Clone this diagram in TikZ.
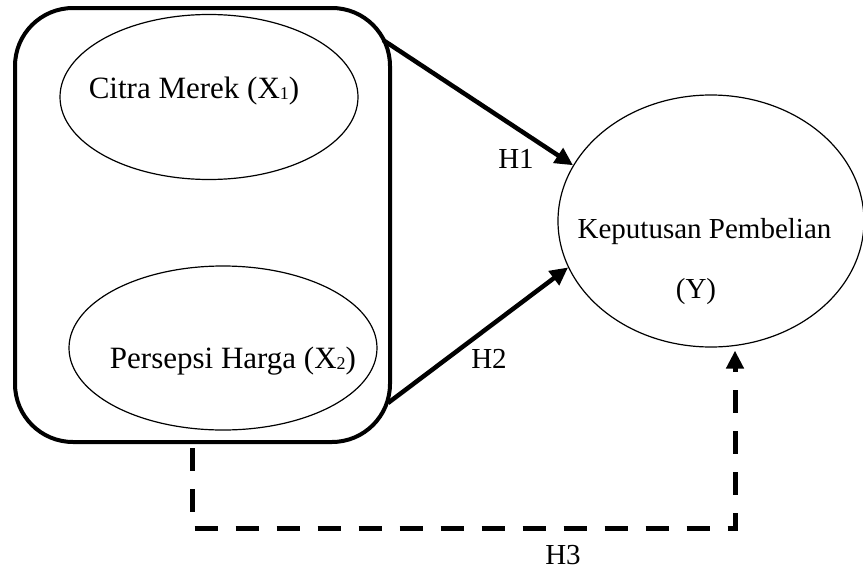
\documentclass[tikz,border=0pt]{standalone}
\usepackage{fontspec}
\setmainfont{Liberation Serif}
\usetikzlibrary{positioning, arrows.meta, shapes.geometric, calc}
\tikzset{
        var-ellipse/.style={
            ellipse, draw, line width=1.2pt, inner sep=0pt
        },
        group-box/.style={
            rectangle, draw, rounded corners=58pt, line width=4pt
        },
        var-text/.style={
            font=\fontsize{31pt}{36pt}\selectfont, anchor=base, inner sep=0pt
        },
        hyp-text/.style={
            font=\fontsize{29pt}{34pt}\selectfont, anchor=base, inner sep=0pt
        },
        path-arrow/.style={
            -{Triangle[length=18pt, width=17pt]}, line width=4.5pt
        },
        sim-arrow/.style={
            path-arrow, line width=5pt, dash pattern=on 23pt off 18pt
        },
}
\newcommand{\subnum}[1]{\raisebox{-1.5pt}{\fontsize{18pt}{18pt}\selectfont #1}}

\begin{document}
\begin{tikzpicture}[x=1pt, y=-1pt]
        \useasboundingbox (0,0) rectangle (863,570);

        %DRAW NODES (ellipses first, texts placed relative to them)
        \node [group-box, minimum width=375pt, minimum height=434pt] (GROUP) at (202.5,225) {};
        \node [var-ellipse, minimum width=298pt, minimum height=165pt] (X1) at (209,97)  {};
        \node [var-ellipse, minimum width=308pt, minimum height=164pt] (X2) at (223,348) {};
        \node [var-ellipse, minimum width=306pt, minimum height=252pt] (Y)  at (711,221) {};

        \node [var-text]  (X1TXT) at ($(X1)+(-15,1)$)   {Citra Merek (X\subnum{1})};
        \node [var-text]  (X2TXT) at ($(X2)+(10,20)$)   {Persepsi Harga (X\subnum{2})};
        \node [hyp-text]  (YTXT)  at ($(Y)+(-6.5,17)$)  {Keputusan Pembelian};
        \node [hyp-text]  (YSYM)  at ($(Y)+(-15,77)$)   {(Y)};

        \node [hyp-text]  (H1)    at (516,168)          {H1};
        \node [hyp-text]  (H2)    at (489,368)          {H2};
        \node [hyp-text]  (H3)    at (563,564)          {H3};

        % START POINTS ON THE BOX
        \coordinate (H1S) at ($(GROUP.north east)+(-9,34)$);
        \coordinate (H2S) at ($(GROUP.south east)+(-4,-41)$);
        \coordinate (H3S) at ($(GROUP.south)+(-10,4)$);
        \coordinate (H3C) at ($(H3S)+(0,80)$);

        % CONNECT PARTIAL EFFECTS
        \draw [path-arrow] (H1S) -- (Y.158);
        \draw [path-arrow] (H2S) -- (Y.198);

        % CONNECT SIMULTANEOUS EFFECT
        \draw [sim-arrow] (H3S) -- (H3C) -| ([xshift=24pt, yshift=-3pt]Y.south);

\end{tikzpicture}
\end{document}
